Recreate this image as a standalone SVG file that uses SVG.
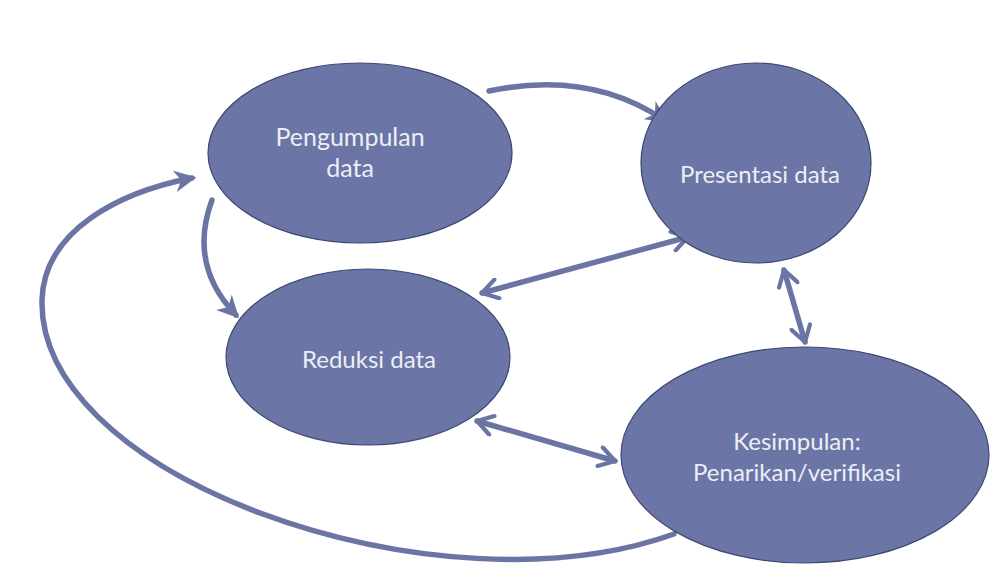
<svg xmlns="http://www.w3.org/2000/svg" width="1007" height="565" viewBox="0 0 1007 565">
<defs>
<marker id="head" viewBox="0 0 10 10" refX="8" refY="5" markerWidth="4" markerHeight="4" orient="auto-start-reverse" markerUnits="strokeWidth">
<path d="M0,0 L10,5 L0,10 L3,5 Z" fill="#6a75a4"/>
</marker>
<marker id="chev" viewBox="0 0 12 12" refX="10" refY="6" markerWidth="4.2" markerHeight="4.2" orient="auto-start-reverse" markerUnits="strokeWidth">
<path d="M2,1 L10,6 L2,11" fill="none" stroke="#6a75a4" stroke-width="2.2" stroke-linecap="round" stroke-linejoin="round"/>
</marker>
</defs>
<style>
.node{fill:#6b76a6;stroke:#3e4874;stroke-width:1.2}
.lbl{font-family:"Lato","Open Sans","Liberation Sans",sans-serif;font-size:24px;fill:#eceef5;text-anchor:middle}
.big{font-size:25px}
.c{fill:none;stroke:#6a75a4;stroke-width:5.5;stroke-linecap:round}
</style>
<rect width="1007" height="565" fill="#ffffff"/>
<g id="connectors">
<path class="c" d="M489,91 Q590,70 664,120" marker-end="url(#head)"/>
<path class="c" d="M212,200 Q188,265 236,315" marker-end="url(#head)"/>
<path class="c" d="M482,293 L688,237" marker-start="url(#chev)" marker-end="url(#chev)"/>
<path class="c" d="M784,270 L805,342" marker-start="url(#chev)" marker-end="url(#chev)"/>
<path class="c" d="M477,421 L615,461" marker-start="url(#chev)" marker-end="url(#chev)"/>
<path class="c" d="M674,534 C560,575 400,565 260,513 C120,460 40,380 42,300 C44,230 120,192 192,178" marker-end="url(#head)"/>
</g>
<g id="n-pengumpulan">
<ellipse class="node" cx="360" cy="153" rx="152" ry="90"/>
<text class="lbl big" x="350" y="146">Pengumpulan</text>
<text class="lbl big" x="350" y="177">data</text>
</g>
<g id="n-presentasi">
<ellipse class="node" cx="756" cy="163" rx="115" ry="100"/>
<text class="lbl" x="760" y="183">Presentasi data</text>
</g>
<g id="n-reduksi">
<ellipse class="node" cx="368" cy="357" rx="142" ry="88"/>
<text class="lbl" x="369" y="368">Reduksi data</text>
</g>
<g id="n-kesimpulan">
<ellipse class="node" cx="805" cy="455" rx="184" ry="108"/>
<text class="lbl" x="797" y="450">Kesimpulan:</text>
<text class="lbl" x="797" y="481">Penarikan/verifikasi</text>
</g>
</svg>
